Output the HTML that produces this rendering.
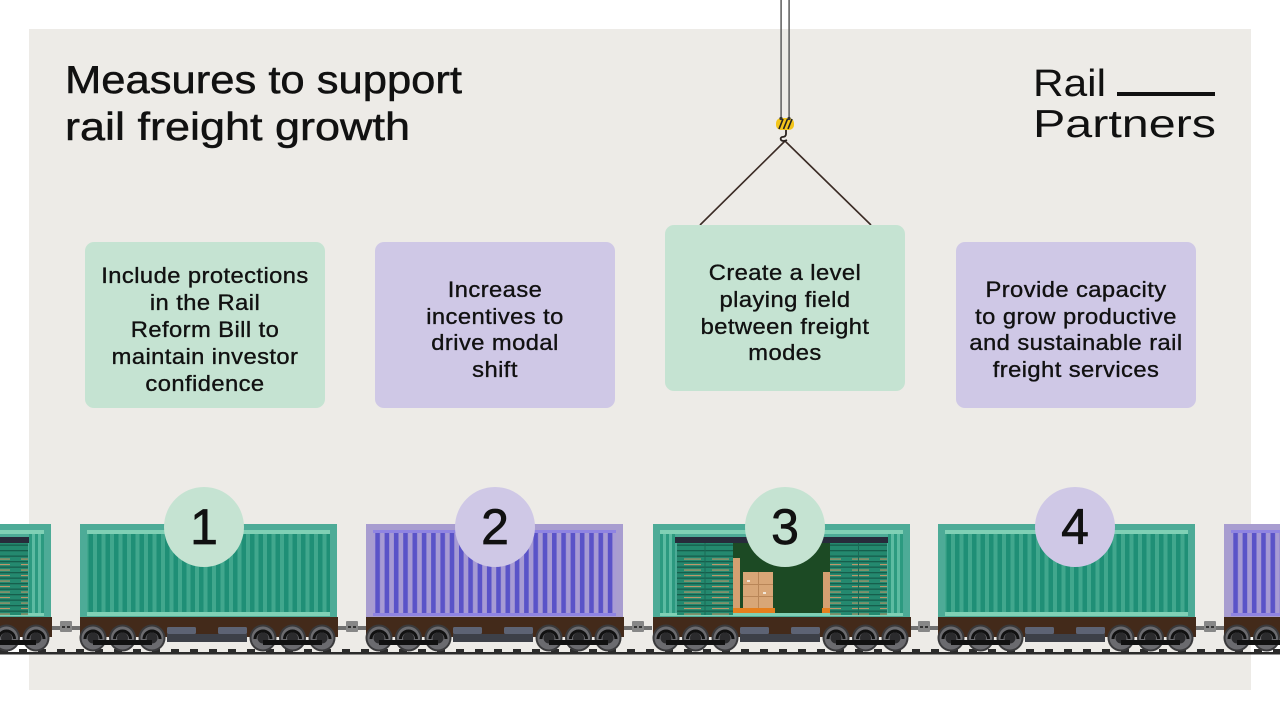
<!DOCTYPE html>
<html><head><meta charset="utf-8"><style>
html,body{margin:0;padding:0;background:#fff;}
svg{display:block;}
text{font-family:"Liberation Sans",Arial,sans-serif;fill:#111;}
.bt{font-size:22px;letter-spacing:0.4px;text-anchor:middle;stroke:#111;stroke-width:0.35;}
.num{font-size:50px;text-anchor:middle;stroke:#111;stroke-width:0.7;}
</style></head><body>
<svg width="1280" height="720" viewBox="0 0 1280 720" xmlns="http://www.w3.org/2000/svg">
<defs>
  <pattern id="gs" patternUnits="userSpaceOnUse" width="8.5" height="10">
    <rect width="8.5" height="10" fill="#41a78d"/>
    <rect width="4.5" height="10" fill="#1f8f76"/>
  </pattern>
  <pattern id="ps" patternUnits="userSpaceOnUse" width="9.3" height="10">
    <rect width="9.3" height="10" fill="#a79bd4"/>
    <rect width="4.6" height="10" fill="#5a53c8"/>
  </pattern>
  <pattern id="slA" patternUnits="userSpaceOnUse" width="28" height="5.5">
    <rect width="28" height="5.5" fill="#24896f"/>
    <rect width="28" height="1.3" fill="#165e4c"/>
  </pattern>
  <pattern id="slB" patternUnits="userSpaceOnUse" width="28" height="5.5">
    <rect width="28" height="5.5" fill="#24896f"/>
    <rect width="28" height="1.3" fill="#165e4c"/>
    <rect x="3" y="3" width="17" height="1.1" fill="#bd976a"/>
  </pattern>
  <pattern id="slp" patternUnits="userSpaceOnUse" width="19" height="4">
    <rect width="8" height="4" fill="#2b2b2b"/>
  </pattern>

  <g id="gc">
    <rect x="0" y="524" width="257" height="94" fill="#4dab97"/>
    <rect x="7" y="530" width="243" height="86" fill="url(#gs)"/>
    <rect x="7" y="530" width="243" height="4" fill="#80d0b5"/>
    <rect x="7" y="612" width="243" height="4" fill="#80d0b5"/>
  </g>
  <g id="pc">
    <rect x="0" y="524" width="257" height="94" fill="#a89dd0"/>
    <rect x="7" y="530" width="243" height="86" fill="url(#ps)"/>
    <rect x="7" y="530" width="243" height="3" fill="#8f84e2"/>
    <rect x="7" y="613" width="243" height="3" fill="#8f84e2"/>
  </g>
  <g id="dw">
    <rect x="0" y="524" width="257" height="94" fill="#4dab97"/>
    <rect x="7" y="530" width="243" height="4" fill="#80d0b5"/>
    <rect x="7" y="534" width="15" height="79" fill="#2c9a80"/>
    <rect x="10" y="534" width="3" height="79" fill="#5cbba2"/>
    <rect x="16" y="534" width="3" height="79" fill="#5cbba2"/>
    <rect x="235" y="534" width="15" height="79" fill="#2c9a80"/>
    <rect x="238" y="534" width="3" height="79" fill="#5cbba2"/>
    <rect x="244" y="534" width="3" height="79" fill="#5cbba2"/>
    <rect x="22" y="537" width="213" height="6" fill="#272b3b"/>
    <rect x="80" y="543" width="97" height="70" fill="#1c4a24"/>
    <rect x="80" y="558" width="7" height="50" fill="#d4a071"/>
    <rect x="170" y="572" width="7" height="36" fill="#d4a071"/>
    <rect x="90" y="572" width="30" height="36" fill="#d8a677"/>
    <rect x="90" y="584" width="30" height="1" fill="#b98658"/>
    <rect x="90" y="596" width="30" height="1" fill="#b98658"/>
    <rect x="105" y="572" width="1" height="36" fill="#b98658"/>
    <rect x="94" y="580" width="3" height="2" fill="#f1e6d8"/>
    <rect x="110" y="592" width="3" height="2" fill="#f1e6d8"/>
    <rect x="88" y="608" width="34" height="5" fill="#e57f1e"/>
    <rect x="80" y="608" width="8" height="5" fill="#e57f1e"/>
    <rect x="169" y="608" width="8" height="5" fill="#e57f1e"/>
    <rect x="7" y="613" width="243" height="3" fill="#80d0b5"/>
    <rect x="24" y="543" width="56" height="15" fill="url(#slA)"/>
    <rect x="24" y="558" width="56" height="57" fill="url(#slB)"/>
    <rect x="51.5" y="543" width="1" height="72" fill="#1a6a56"/>
    <rect x="177" y="543" width="57" height="15" fill="url(#slA)"/>
    <rect x="177" y="558" width="57" height="57" fill="url(#slB)"/>
    <rect x="205" y="543" width="1" height="72" fill="#1a6a56"/>
  </g>
  <g id="wh">
    <circle r="13.5" fill="#3a3a3c"/>
    <circle r="11.5" fill="#6b6b6f"/>
    <circle r="5.5" fill="#2b2b2d"/>
  </g>
  <g id="bg">
    <use href="#wh" x="0" y="638"/>
    <use href="#wh" x="29.5" y="638"/>
    <use href="#wh" x="59" y="638"/>
    <rect x="0" y="640" width="59" height="5" fill="#111"/>
    <path d="M-8 639 A8 8 0 0 1 8 639 M21.5 639 A8 8 0 0 1 37.5 639 M51 639 A8 8 0 0 1 67 639" fill="none" stroke="#111" stroke-width="3"/>
  </g>
  <g id="uf">
    <rect x="0" y="617" width="258" height="20" fill="#432a1a"/>
    <rect x="87" y="627" width="29" height="7" rx="1.5" fill="#5d6374"/>
    <rect x="138" y="627" width="29" height="7" rx="1.5" fill="#5d6374"/>
    <rect x="87" y="634" width="80" height="8" fill="#3d4048"/>
    <use href="#bg" x="13" y="0"/>
    <use href="#bg" x="183" y="0"/>
  </g>
  <g id="cp">
    <rect x="0" y="626" width="28" height="4" fill="#707070"/>
    <rect x="8" y="621" width="12" height="11" rx="1" fill="#878787"/>
    <rect x="10" y="626" width="3" height="2" fill="#333"/>
    <rect x="15" y="626" width="3" height="2" fill="#333"/>
  </g>
</defs>

<!-- panel -->
<rect x="29" y="29" width="1222" height="661" fill="#edebe7"/>

<!-- title -->
<text x="65" y="93" font-size="39" textLength="397" lengthAdjust="spacingAndGlyphs" stroke="#111" stroke-width="0.5">Measures to support</text>
<text x="65" y="140" font-size="39" textLength="345" lengthAdjust="spacingAndGlyphs" stroke="#111" stroke-width="0.5">rail freight growth</text>

<!-- logo -->
<text x="1033" y="96" font-size="38" textLength="73" lengthAdjust="spacingAndGlyphs">Rail</text>
<rect x="1117" y="92" width="98" height="4" fill="#111"/>
<text x="1033" y="137" font-size="39" textLength="183" lengthAdjust="spacingAndGlyphs">Partners</text>

<!-- crane hook -->
<rect x="780.3" y="0" width="1.6" height="119" fill="#666"/>
<rect x="788.3" y="0" width="1.6" height="119" fill="#666"/>
<path d="M785 141 L700 225 M785 141 L871 225" stroke="#3b2b25" stroke-width="1.6" fill="none"/>
<path d="M786 130 L786 134 Q786 137 782 137 Q780 138 781 140 Q783 142 787 140" stroke="#2b2320" stroke-width="1.8" fill="none"/>
<rect x="776" y="118" width="18" height="12" rx="5" fill="#f3c51b"/>
<path d="M779 129 L783 119 M783.5 129 L787.5 119 M788 129 L792 119" stroke="#222" stroke-width="1.6"/>
<circle cx="781" cy="118.5" r="1.6" fill="#333"/>
<circle cx="789" cy="118.5" r="1.6" fill="#333"/>

<!-- boxes -->
<rect x="85" y="242" width="240" height="166" rx="9" fill="#c5e3d2"/>
<rect x="375" y="242" width="240" height="166" rx="9" fill="#cfc8e6"/>
<rect x="665" y="225" width="240" height="166" rx="9" fill="#c5e3d2"/>
<rect x="956" y="242" width="240" height="166" rx="9" fill="#cfc8e6"/>

<g transform="translate(205,0) scale(1.08,1)">
<text class="bt" x="0" y="283">Include protections</text>
<text class="bt" x="0" y="310">in the Rail</text>
<text class="bt" x="0" y="337">Reform Bill to</text>
<text class="bt" x="0" y="364">maintain investor</text>
<text class="bt" x="0" y="391">confidence</text>
</g>

<g transform="translate(495,0) scale(1.08,1)">
<text class="bt" x="0" y="297">Increase</text>
<text class="bt" x="0" y="324">incentives to</text>
<text class="bt" x="0" y="350">drive modal</text>
<text class="bt" x="0" y="377">shift</text>
</g>

<g transform="translate(785,0) scale(1.08,1)">
<text class="bt" x="0" y="280">Create a level</text>
<text class="bt" x="0" y="307">playing field</text>
<text class="bt" x="0" y="334">between freight</text>
<text class="bt" x="0" y="360">modes</text>
</g>

<g transform="translate(1076,0) scale(1.08,1)">
<text class="bt" x="0" y="297">Provide capacity</text>
<text class="bt" x="0" y="324">to grow productive</text>
<text class="bt" x="0" y="350">and sustainable rail</text>
<text class="bt" x="0" y="377">freight services</text>
</g>

<!-- track -->
<rect x="0" y="649" width="1280" height="3" fill="url(#slp)"/>
<rect x="0" y="652" width="1280" height="2.5" fill="#2b2b2b"/>

<!-- couplers -->
<use href="#cp" x="52" y="0"/>
<use href="#cp" x="338" y="0"/>
<use href="#cp" x="624" y="0"/>
<use href="#cp" x="910" y="0"/>
<use href="#cp" x="1196" y="0"/>

<!-- wagons -->
<use href="#dw" x="-206" y="0"/>
<use href="#uf" x="-206" y="0"/>
<use href="#gc" x="80" y="0"/>
<use href="#uf" x="80" y="0"/>
<use href="#pc" x="366" y="0"/>
<use href="#uf" x="366" y="0"/>
<use href="#dw" x="653" y="0"/>
<use href="#uf" x="653" y="0"/>
<use href="#gc" x="938" y="0"/>
<use href="#uf" x="938" y="0"/>
<use href="#pc" x="1224" y="0"/>
<use href="#uf" x="1224" y="0"/>

<!-- number circles -->
<circle cx="204" cy="527" r="40" fill="#c5e3d2"/>
<circle cx="495" cy="527" r="40" fill="#cfc8e6"/>
<circle cx="785" cy="527" r="40" fill="#c5e3d2"/>
<circle cx="1075" cy="527" r="40" fill="#cfc8e6"/>
<text class="num" x="204" y="544">1</text>
<text class="num" x="495" y="544">2</text>
<text class="num" x="785" y="544">3</text>
<text class="num" x="1075" y="544">4</text>
</svg>
</body></html>
